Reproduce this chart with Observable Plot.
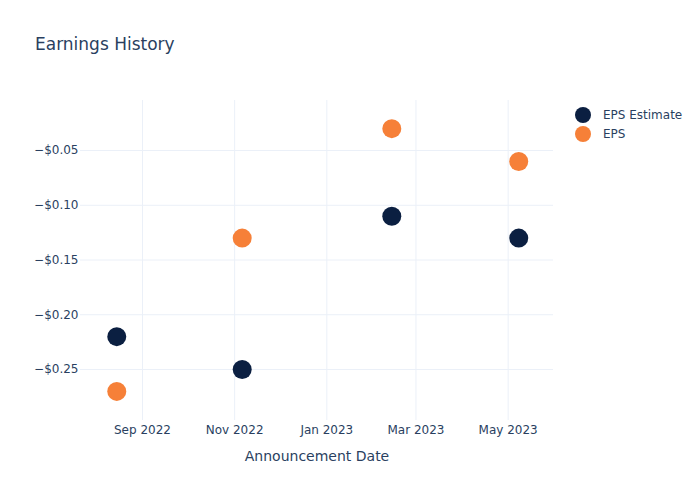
<!DOCTYPE html>
<html><head><meta charset="utf-8">
<script src="https://cdn.jsdelivr.net/npm/d3@7"></script>
<script src="https://cdn.jsdelivr.net/npm/@observablehq/plot@0.6"></script>
<style>
body{margin:0;background:#fff;font-family:"DejaVu Sans",sans-serif;}
#wrap{position:relative;width:700px;height:500px;}
#title{position:absolute;left:35px;top:34px;font-size:17px;color:#2a3f5f;white-space:nowrap;}
#legend{position:absolute;left:575px;top:105px;font-size:12px;color:#2a3f5f;}
.item{display:flex;align-items:center;height:19px;}
.sw{width:16px;height:16px;border-radius:50%;margin-right:12px;}
#chart{position:absolute;left:0;top:0;}
</style></head>
<body><div id="wrap"><div id="chart"></div><div id="title">Earnings History</div><div id="legend"></div></div>
<script>
const dates = ["2022-08-15","2022-11-06","2023-02-13","2023-05-08"];
const epsEstimate = [-0.22,-0.25,-0.11,-0.13];
const epsActual = [-0.27,-0.13,-0.03,-0.06];
const seriesNames = ["EPS Estimate","EPS"];
const seriesColors = ["#0b1f41","#f68038"];
const yTicks = [-0.25,-0.20,-0.15,-0.10,-0.05];
const xTicks = ["2022-09-01","2022-11-01","2023-01-01","2023-03-01","2023-05-01"];
const xLabel = "Announcement Date";

const rows = [];
dates.forEach((d,i)=>{
  rows.push({date:new Date(d), value:epsEstimate[i], series:seriesNames[0]});
});
dates.forEach((d,i)=>{
  rows.push({date:new Date(d), value:epsActual[i], series:seriesNames[1]});
});
const fmtY = d => (d<0?"\u2212":"") + "$" + Math.abs(d).toFixed(2);
const ink = "#2a3f5f";
const grid = "#ebf0f8";

const chart = Plot.plot({
  width:700, height:500,
  marginLeft:80, marginRight:147, marginTop:100, marginBottom:80,
  style:{fontFamily:"DejaVu Sans, sans-serif", fontSize:"12px", color:ink, background:"transparent"},
  x:{type:"utc", domain:[new Date("2022-07-22"), new Date("2023-05-31")]},
  y:{domain:[-0.2966,-0.0043]},
  color:{domain:seriesNames, range:seriesColors},
  marks:[
    Plot.gridX(xTicks.map(d=>new Date(d)), {stroke:grid, strokeOpacity:1, strokeWidth:1}),
    Plot.gridY(yTicks, {stroke:grid, strokeOpacity:1, strokeWidth:1}),
    Plot.axisX(xTicks.map(d=>new Date(d)), {tickSize:0, tickPadding:5, tickFormat:d3.utcFormat("%b %Y"), label:null, fill:ink, fontSize:12}),
    Plot.axisY(yTicks, {tickSize:0, tickPadding:2, tickFormat:fmtY, label:null, fill:ink, fontSize:12}),
    Plot.text([xLabel], {frameAnchor:"bottom", dy:40, fill:ink, fontSize:14}),
    Plot.dot(rows, {x:"date", y:"value", fill:"series", r:9.5, stroke:"none"})
  ]
});
document.getElementById("chart").appendChild(chart);
const leg = document.getElementById("legend");
seriesNames.forEach((n,i)=>{
  const it = document.createElement("div"); it.className="item";
  const sw = document.createElement("div"); sw.className="sw"; sw.style.background=seriesColors[i];
  const t = document.createElement("span"); t.textContent=n;
  it.appendChild(sw); it.appendChild(t); leg.appendChild(it);
});
</script>
</body></html>
